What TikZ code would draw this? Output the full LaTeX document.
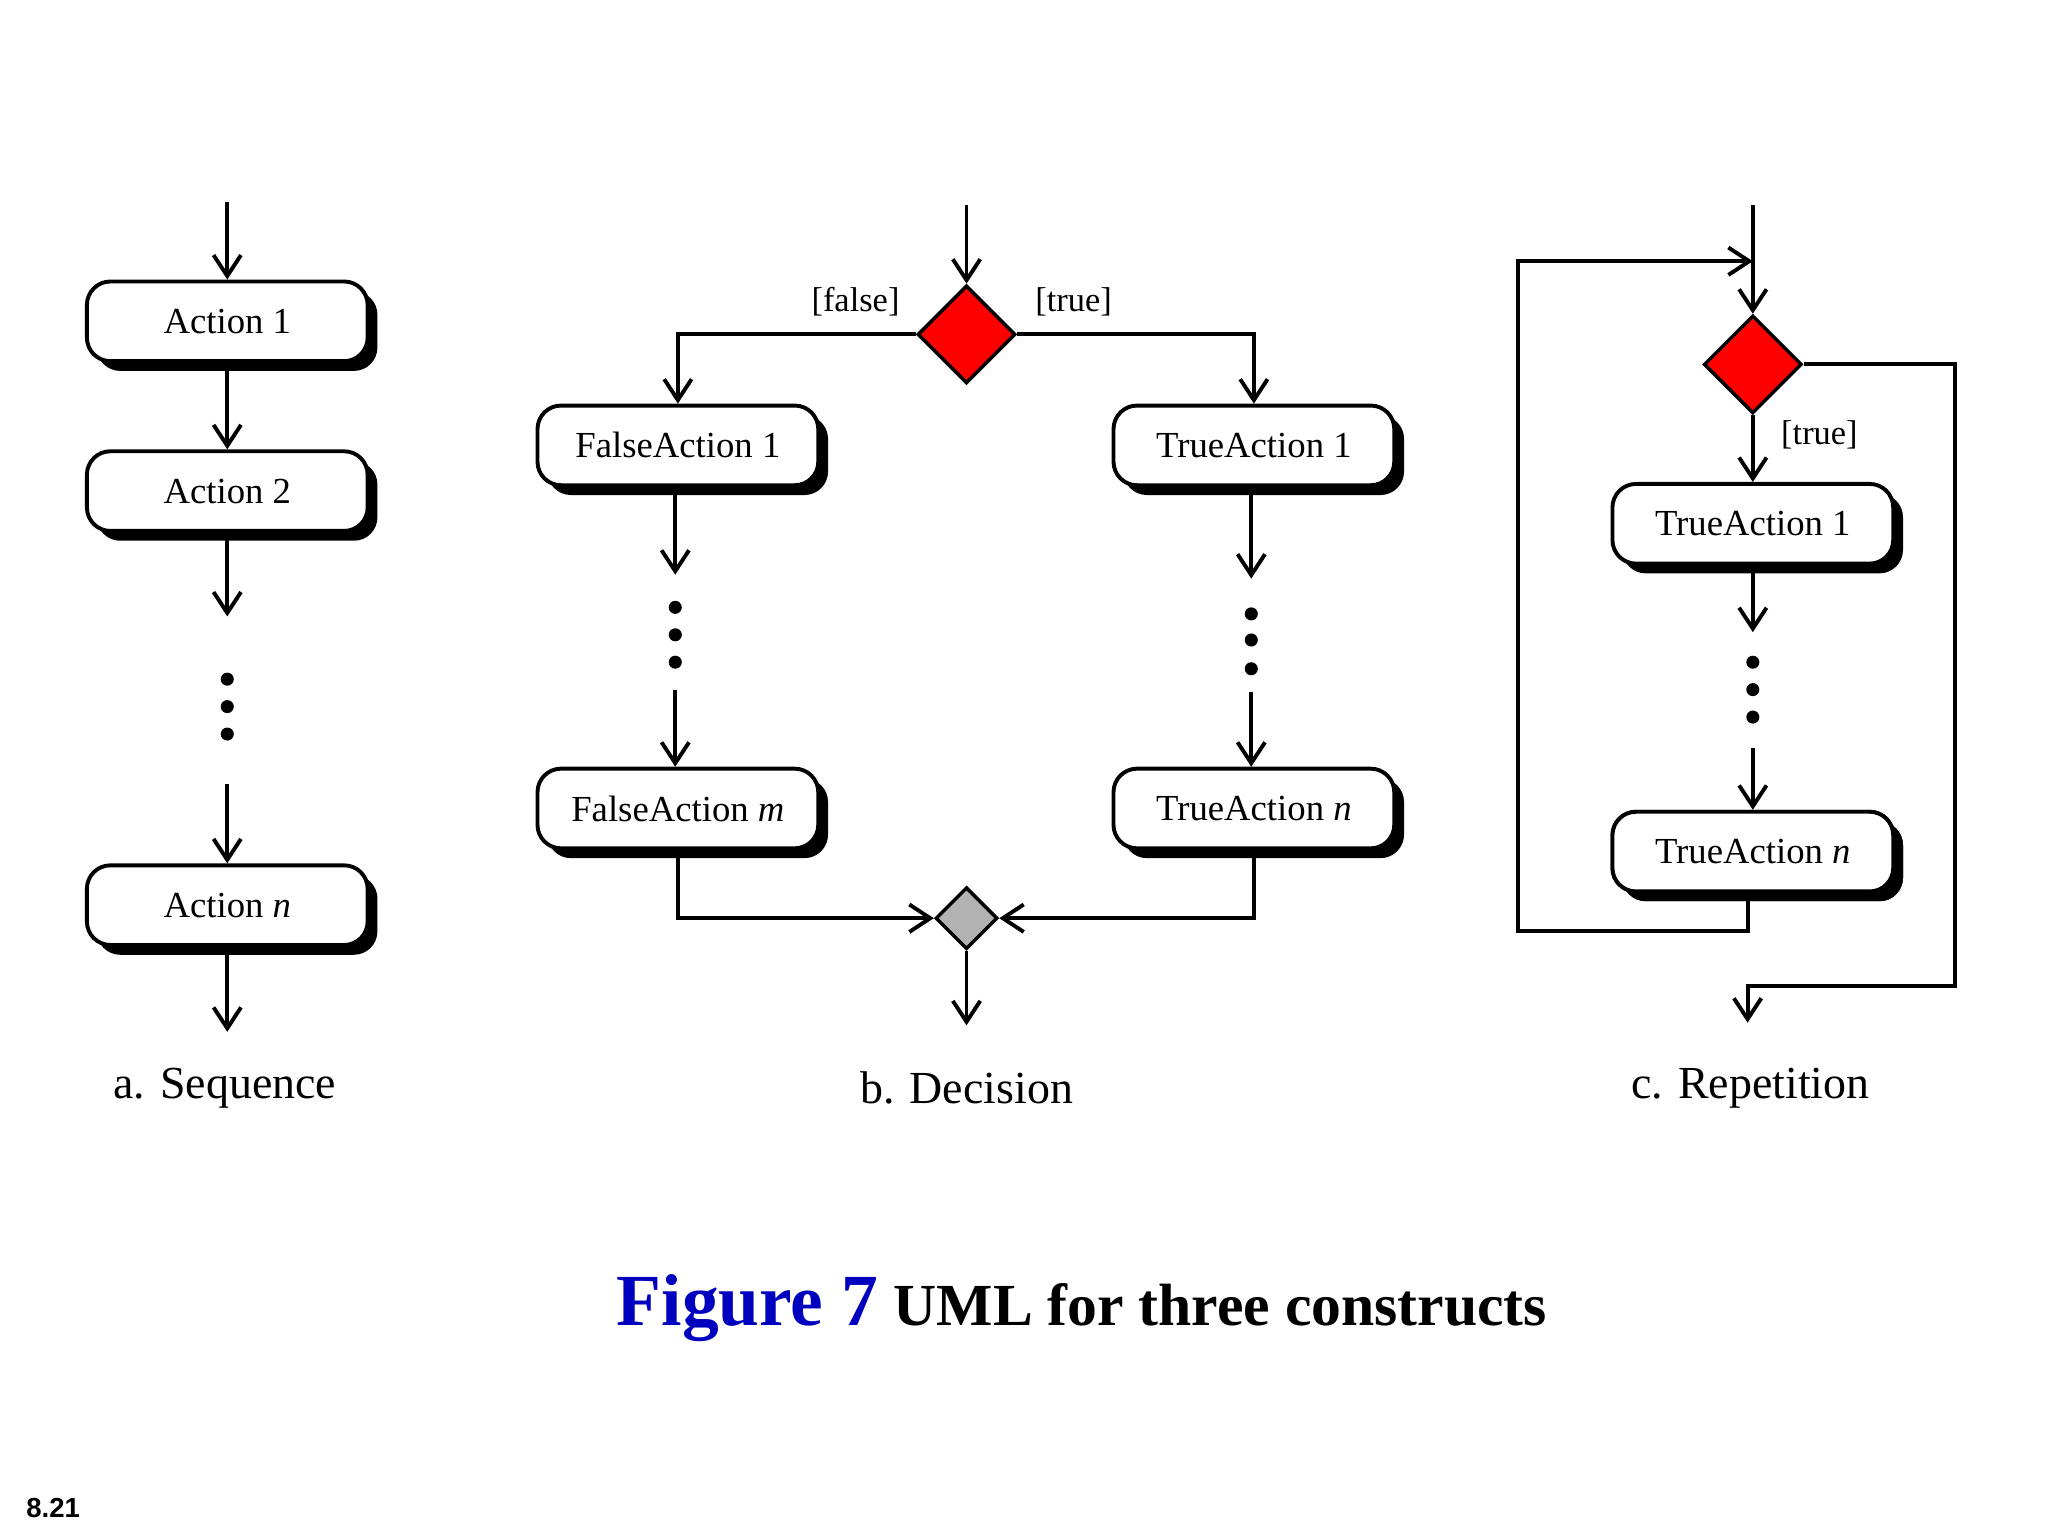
\documentclass[tikz,border=0pt]{standalone}
\usepackage{fontspec}
\setmainfont{Liberation Serif}
\newfontfamily\sans{Liberation Sans}
\usetikzlibrary{arrows.meta,shapes.geometric,shadows}
\begin{document}
\begin{tikzpicture}[x=0.02cm,y=-0.02cm,
 ln/.style={line width=1.7pt},
 ar/.style={ln,-{Straight Barb[length=3.2mm,width=4.2mm,line width=1.7pt]}},
 act/.style={draw,line width=1.7pt,fill=white,rounded corners=0.36cm,minimum width=4.3cm,minimum height=1.22cm,font=\fontsize{16}{18}\selectfont,
   drop shadow={shadow xshift=0.15cm,shadow yshift=-0.15cm,fill=black,opacity=1}},
 dec/.style={diamond,draw,line width=1.5pt,fill=red,minimum width=1.5cm,minimum height=1.5cm,inner sep=0},
 mrg/.style={diamond,draw,line width=1.5pt,fill=gray!60,minimum width=0.95cm,minimum height=0.95cm,inner sep=0},
 dot/.style={circle,fill=black,inner sep=0,minimum size=0.2cm},
 capt/.style={font=\fontsize{20}{24}\selectfont},
 lab/.style={font=\fontsize{15}{18}\selectfont}]
\useasboundingbox (0,0) rectangle (1568,1176);
% a. Sequence
\coordinate (s0) at (174,155);
\node[act] (a1) at (174,246) {Action 1};
\node[act] (a2) at (174,376) {Action 2};
\node[act] (an) at (174,693) {Action \textit{n}};
\coordinate (s1) at (174,472); \coordinate (s2) at (174,600); \coordinate (s3) at (174,790);
\node[dot] (sd1) at (174,520) {}; \node[dot] (sd2) at (174,541) {}; \node[dot] (sd3) at (174,562) {};
\draw[ar] (s0) -- (a1.north);
\draw[ar] (a1.south) -- (a2.north);
\draw[ar] (a2.south) -- (s1);
\draw[ar] (s2) -- (an.north);
\draw[ar] (an.south) -- (s3);
\node[capt] (ca) at (172,833) {a. Sequence};
% b. Decision
\coordinate (d0) at (740,157);
\node[dec] (d) at (740,256) {};
\node[act] (f1) at (519,341) {FalseAction 1};
\node[act] (fm) at (519,619) {FalseAction \textit{m}};
\node[act] (t1) at (960,341) {TrueAction 1};
\node[act] (tn) at (960,619) {TrueAction \textit{n}};
\node[mrg] (m) at (740,703) {};
\draw[ar] (d0) -- (d.north);
\draw[ar] (d.west) -| (f1.north);
\draw[ar] (d.east) -| (t1.north);
\coordinate (f2) at (517,440); \coordinate (f3) at (517,528);
\coordinate (t2) at (958,443); \coordinate (t3) at (958,530);
\draw[ar] (f1.south -| f2) -- (f2);
\draw[ar] (f3) -- (fm.north -| f3);
\draw[ar] (t1.south -| t2) -- (t2);
\draw[ar] (t3) -- (tn.north -| t3);
\node[dot] at (517,465) {}; \node[dot] at (517,486) {}; \node[dot] at (517,507) {};
\node[dot] at (958,470) {}; \node[dot] at (958,490) {}; \node[dot] at (958,512) {};
\draw[ar] (fm.south) |- (m.west);
\draw[ar] (tn.south) |- (m.east);
\coordinate (d4) at (740,785);
\draw[ar] (m.south) -- (d4);
\node[lab] (lf) at (655,231) {[false]};
\node[lab] (lt) at (822,231) {[true]};
\node[capt] (cb) at (740,833) {b. Decision};
% c. Repetition
\coordinate (r0) at (1342,157);
\node[dec] (r) at (1342,279) {};
\node[act] (rt1) at (1342,401) {TrueAction 1};
\node[act] (rtn) at (1342,652) {TrueAction \textit{n}};
\coordinate (rj) at (1342,200);
\coordinate (rb) at (1338,680);
\draw[ar] (rb) -- (1338,713) -- (1162,713) -- (1162,200) -- (rj);
\draw[ar] (r0) -- (r.north);
\draw[ar] (r.east) -- (1497,279) -- (1497,755) -- (1338,755) -- (1338,783);
\draw[ar] (r.south) -- (rt1.north);
\coordinate (r2) at (1342,484); \coordinate (r3) at (1342,573);
\draw[ar] (rt1.south) -- (r2);
\draw[ar] (r3) -- (rtn.north);
\node[act] at (1342,652) {TrueAction \textit{n}};
\node[dot] at (1342,507) {}; \node[dot] at (1342,528) {}; \node[dot] at (1342,549) {};
\node[lab] (rl) at (1393,333) {[true]};
\node[capt] (cc) at (1340,833) {c. Repetition};
% caption
\node[font=\fontsize{32}{36}\selectfont\bfseries,text=blue!75!black,anchor=base west] (fig) at (466,1015) {Figure 7};
\node[font=\fontsize{26}{30}\selectfont\bfseries,anchor=base west] (tit) at (678,1015) {UML for three constructs};
\node[font=\sans\bfseries\fontsize{12}{14}\selectfont,anchor=base west] (pg) at (14,1162) {8.21};
\end{tikzpicture}
\end{document}
